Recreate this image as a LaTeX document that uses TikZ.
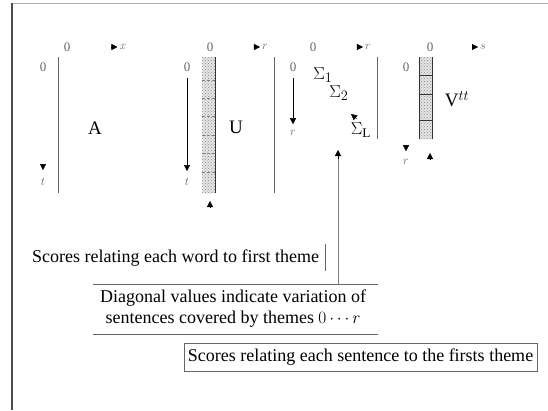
\documentclass[tikz,border=0pt]{standalone}
\usepackage{fontspec}
\setmainfont{Liberation Serif}
\usetikzlibrary{arrows.meta,patterns}

\tikzset{
  lbl/.style={font=\fontsize{13}{15}\selectfont, text=gray!80!black, inner sep=1pt},
  bigtxt/.style={font=\fontsize{19}{22}\selectfont, inner sep=1pt},
  captxt/.style={font=\fontsize{18}{21}\selectfont, inner sep=2pt},
  axtip/.style={-{Triangle[length=6pt,width=6pt]}},
  matline/.style={gray!80!black, line width=0.8pt},
  dotfill/.style={pattern=crosshatch dots, pattern color=gray!90}
}

\begin{document}
\begin{tikzpicture}[x=1pt,y=-1pt]
    \useasboundingbox (0,0) rectangle (548,410);
    % frame
    \draw[gray!60, line width=1pt] (12,3) -- (548,3);
    \draw[black!70, line width=1.8pt] (12,3) -- (12,410);

    % A
    \node[lbl] (a0x) at (67,47) {0};
    \node[lbl] (a0y) at (43,67) {0};
    \node[lbl] (ax) at (123,47) {$x$};
    \node[lbl] (at) at (43,182) {$t$};
    \draw[axtip] ([xshift=-7pt]ax.west) -- ([xshift=-1pt]ax.west);
    \draw[axtip] ([yshift=13pt]at.north) -- ([yshift=7pt]at.north);
    \draw[matline] (58,57) -- (58,193);
    \node[bigtxt] (amat) at (95,128) {A};

    % U
    \node[lbl] (u0x) at (210,47) {0};
    \node[lbl] (u0y) at (187,67) {0};
    \node[lbl] (ur) at (265,47) {$r$};
    \node[lbl] (ut) at (187,182) {$t$};
    \draw[axtip] ([xshift=-7pt]ur.west) -- ([xshift=-1pt]ur.west);
    \draw[axtip] ([yshift=-5pt]u0y.south) -- ([yshift=6pt]ut.north);
    \fill[gray!20] (202,57) rectangle (215,193);
    \fill[dotfill] (202,57) rectangle (215,193);
    \foreach \y in {80,98,116,135,153,172}
        \draw[gray, densely dashed, line width=0.4pt] (202,\y) -- (215,\y);
    \draw[black!80, line width=0.8pt] (215,57) -- (215,193);
    \coordinate (ucol) at (210,203);
    \draw[axtip] ([yshift=-4pt]ucol) -- ([yshift=2pt]ucol);
    \node[bigtxt] (umat) at (236,127) {U};
    \draw[matline] (274,57) -- (274,193);

    % Sigma
    \node[lbl] (s0x) at (313,47) {0};
    \node[lbl] (s0y) at (293,67) {0};
    \node[lbl] (sr) at (368,47) {$r$};
    \node[lbl] (sry) at (293,133) {$r$};
    \draw[axtip] ([xshift=-7pt]sr.west) -- ([xshift=-1pt]sr.west);
    \draw[axtip] ([yshift=-5pt]s0y.south) -- ([yshift=5pt]sry.north);
    \node[bigtxt] (sig1) at (323,75) {$\Sigma_1$};
    \node[bigtxt] (sig2) at (339,93) {$\Sigma_2$};
    \node[bigtxt] (sigl) at (361,130) {$\Sigma_{\mathrm{L}}$};
    \coordinate (sigdots) at (351,114);
    \draw[axtip] (357,119) -- (sigdots);
    \draw[matline] (377,57) -- (377,139);

    % V
    \node[lbl] (v0x) at (430,47) {0};
    \node[lbl] (v0y) at (406,67) {0};
    \node[lbl] (vs) at (483,47) {$s$};
    \node[lbl] (vr) at (406,162) {$r$};
    \draw[axtip] ([xshift=-7pt]vs.west) -- ([xshift=-1pt]vs.west);
    \draw[axtip] ([yshift=13pt]vr.north) -- ([yshift=7pt]vr.north);
    \fill[gray!20] (419,57) rectangle (432,139);
    \fill[dotfill] (419,57) rectangle (432,139);
    \draw[black!80, line width=0.6pt] (419,57) -- (419,139) (432,57) -- (432,139);
    \foreach \y in {75,94,120}
        \draw[black!80, line width=0.6pt] (419,\y) -- (432,\y);
    \coordinate (vcol) at (430,155);
    \draw[axtip] ([yshift=-4pt]vcol) -- ([yshift=2pt]vcol);
    \node[bigtxt] (vmat) at (457,99) {V$^{tt}$};

    % captions
    \node[captxt, anchor=west] (word) at (30,258) {Scores relating each word to first theme};
    \draw[matline] (325,244) -- (325,271);

    \node[captxt, align=center, inner sep=3pt] (diag) at (233,309)
        {Diagonal values indicate variation of\\sentences covered by themes $0\cdots r$};
    \draw[matline] (93,284) -- (378,284);
    \draw[matline] (93,334) -- (378,334);
    \coordinate (sigfoot) at (338,150);
    \draw[gray, line width=0.8pt] (338,284) -- ([yshift=-8pt]sigfoot);
    \draw[axtip] ([yshift=-9pt]sigfoot) -- (sigfoot);

    \node[captxt, draw=gray!80!black, line width=0.8pt, minimum width=353pt, minimum height=28pt] (sent) at (360.5,357)
        {Scores relating each sentence to the firsts theme};
\end{tikzpicture}
\end{document}
